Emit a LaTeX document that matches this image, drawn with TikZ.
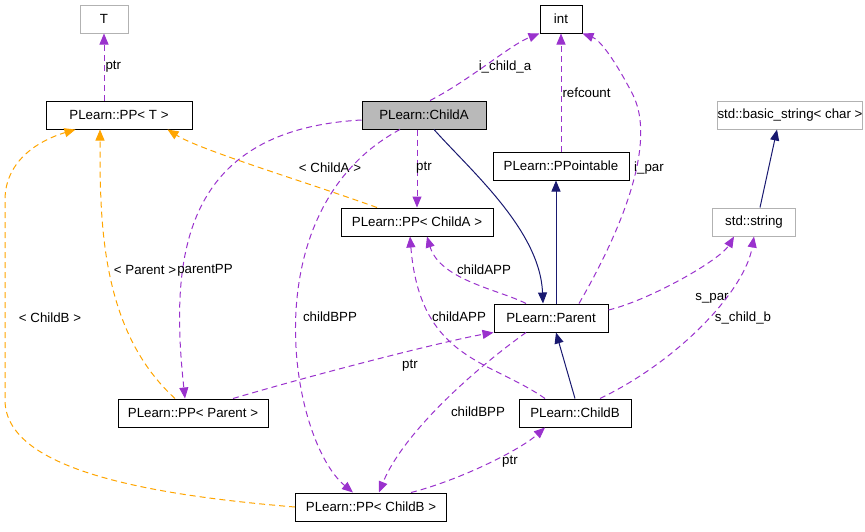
\documentclass[tikz,border=0pt]{standalone}
\usepackage{fontspec}
\setmainfont{Liberation Sans}
\usetikzlibrary{arrows.meta,calc}
\definecolor{purp}{HTML}{9A32CD}
\definecolor{navy}{HTML}{191970}
\definecolor{org}{HTML}{FFA500}
\begin{document}
\begin{tikzpicture}[x=1pt,y=-1pt,font=\fontsize{13.3}{15}\selectfont,
 box/.style={draw=black,fill=white,inner sep=0pt,minimum height=28pt,line width=1pt},
 gbox/.style={box,draw=gray!60},
 lab/.style={inner sep=1pt,fill=none},
 tip/.style={-{Triangle[length=11pt,width=9pt]},line width=1pt},
 uses/.style={draw=purp,tip,dash pattern=on 6pt off 4pt},
 tmpl/.style={draw=org,tip,dash pattern=on 6pt off 4pt},
 inh/.style={draw=navy,tip}]
\useasboundingbox (0,0) rectangle (865,531);
\node[gbox,minimum width=48pt] (T) at (104,19) {T};
\node[box,minimum width=146pt] (PPT) at (119,115) {PLearn::PP< T >};
\node[box,minimum width=42pt] (int) at (561,19) {int};
\node[box,minimum width=124pt,fill=gray!55] (CA) at (424,115) {PLearn::ChildA};
\node[gbox,minimum width=139pt] (BS) at (790,115) {std::basic\_string< char >};
\node[box,minimum width=136pt] (PPo) at (561,166) {PLearn::PPointable};
\node[box,minimum width=152pt] (PPCA) at (417,222) {PLearn::PP< ChildA >};
\node[gbox,minimum width=83pt] (str) at (754,222) {std::string};
\node[box,minimum width=114pt] (Par) at (551,318) {PLearn::Parent};
\node[box,minimum width=150pt] (PPP) at (193,413) {PLearn::PP< Parent >};
\node[box,minimum width=112pt] (CB) at (575,413) {PLearn::ChildB};
\node[box,minimum width=151pt] (PPCB) at (371,507) {PLearn::PP< ChildB >};

\draw[uses] (PPT.north -| T) -- node[lab,right]{ptr} (T.south);
\draw[uses] ($(CA.north)+(6,0)$) .. controls (470,80) and (510,45) .. (int.south west);
\node[lab] at (505,67) {i\_child\_a};
\draw[uses] (PPo.north) -- node[lab,right]{refcount} (int.south);
\draw[uses] ($(Par.north)+(28,0)$) .. controls (610,250) and (660,150) .. (633,95) .. controls (615,60) and (600,40) .. (int.south east);
\node[lab] at (649,168) {i\_par};
\draw[tmpl] ($(PPCA.north)+(-40,0)$) .. controls (300,180) and (200,150) .. ($(PPT.south east)+(-25,0)$);
\node[lab] at (330,168) {< ChildA >};
\draw[uses] ($(CA.south)+(-7,0)$) -- ($(PPCA.north)+(0,0)$);
\node[lab] at (424,168) {ptr};
\draw[inh] ($(CA.south)+(10,0)$) .. controls (470,170) and (540,230) .. ($(Par.north)+(-8,0)$);
\draw[inh] ($(Par.north)+(5,0)$) -- ($(PPo.south)+(-5,0)$);
\draw[inh] ($(str.north)+(6,0)$) -- ($(BS.south)+(-13,0)$);
\draw[uses] ($(Par.east)+(0,-8)$) .. controls (650,300) and (720,260) .. ($(str.south)+(-20,0)$);
\node[lab] at (712,298) {s\_par};
\draw[uses] ($(CB.north)+(25,0)$) .. controls (680,360) and (745,290) .. (str.south);
\node[lab] at (743,318) {s\_child\_b};
\draw[uses] ($(Par.north)+(-25,0)$) .. controls (500,290) and (440,280) .. ($(PPCA.south)+(10,0)$);
\node[lab] at (484,270) {childAPP};
\draw[uses] ($(CB.north)+(-30,0)$) .. controls (490,360) and (420,360) .. ($(PPCA.south)+(-7,0)$);
\node[lab] at (459,317) {childAPP};
\draw[inh] (CB.north) -- ($(Par.south)+(5,0)$);
\draw[uses] ($(CA.west)+(0,5)$) .. controls (180,130) and (170,260) .. ($(PPP.north)+(-8,0)$);
\node[lab] at (205,270) {parentPP};
\draw[tmpl] ($(PPP.north)+(-18,0)$) .. controls (100,330) and (100,220) .. ($(PPT.south)+(-19,0)$);
\node[lab] at (145,270) {< Parent >};
\draw[uses] ($(PPP.north)+(40,0)$) .. controls (330,370) and (450,340) .. (Par.south west);
\node[lab] at (410,366) {ptr};
\draw[uses] ($(CA.south)+(-24,0)$) .. controls (250,210) and (290,440) .. ($(PPCB.north)+(-18,0)$);
\node[lab] at (330,317) {childBPP};
\draw[uses] ($(Par.south)+(-25,0)$) .. controls (460,380) and (400,440) .. ($(PPCB.north)+(8,0)$);
\node[lab] at (478,412) {childBPP};
\draw[uses] ($(PPCB.north)+(40,0)$) .. controls (460,480) and (520,450) .. ($(CB.south)+(-30,0)$);
\node[lab] at (510,462) {ptr};
\draw[tmpl] (PPCB.west) .. controls (150,495) and (5,470) .. (5,400) -- (5,200) .. controls (5,160) and (40,140) .. ($(PPT.south west)+(30,0)$);
\node[lab] at (50,318) {< ChildB >};
\end{tikzpicture}
\end{document}
